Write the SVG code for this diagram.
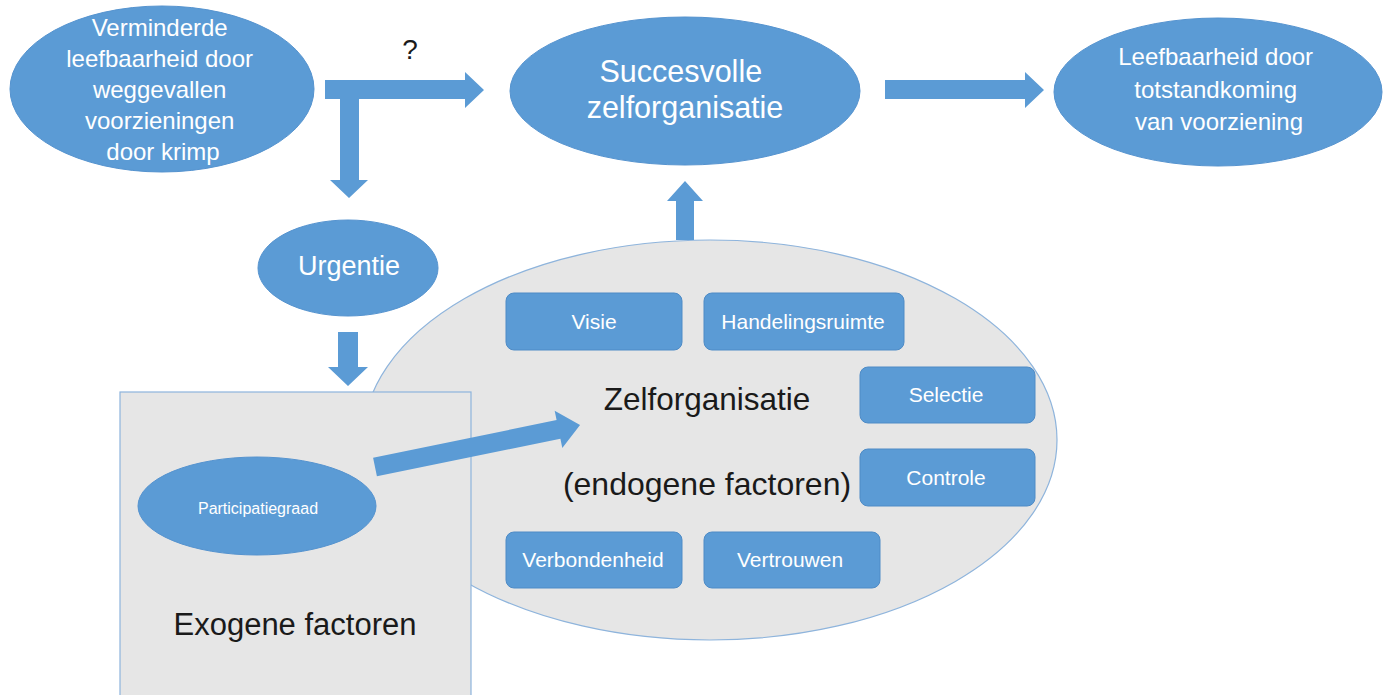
<svg xmlns="http://www.w3.org/2000/svg" width="1384" height="695" viewBox="0 0 1384 695">
  <defs>
    <style>
      .blue { fill: #5b9bd5; stroke: #5593cf; stroke-width: 1; }
      .gray { fill: #e6e6e6; stroke: #8eb4dc; stroke-width: 1.2; }
      .box { fill: #5b9bd5; stroke: #4e8bc6; stroke-width: 1; }
      .arrow { fill: #5b9bd5; stroke: none; }
      .wt { font-family: "Liberation Sans", Arial, sans-serif; fill: #ffffff; text-anchor: middle; }
      .dk { font-family: "Liberation Sans", Arial, sans-serif; fill: #1a1a1a; text-anchor: middle; }
    </style>
  </defs>
  <rect width="1384" height="695" fill="#ffffff"/>

  <g id="zelforganisatie">
    <ellipse class="gray" cx="710" cy="440" rx="347" ry="200"/>
    <text class="dk" x="707" y="410" font-size="31.5">Zelforganisatie</text>
    <text class="dk" x="707" y="495" font-size="32">(endogene factoren)</text>
  </g>

  <g id="exogene">
    <rect class="gray" x="120" y="392" width="351" height="320"/>
    <text class="dk" x="295" y="635" font-size="31">Exogene factoren</text>
  </g>

  <g id="verminderde">
    <ellipse class="blue" cx="162" cy="89" rx="152" ry="83"/>
    <text class="wt" font-size="24">
      <tspan x="163" y="36">Verminderde</tspan>
      <tspan x="163" y="67">leefbaarheid door</tspan>
      <tspan x="163" y="98">weggevallen</tspan>
      <tspan x="163" y="129">voorzieningen</tspan>
      <tspan x="163" y="160">door krimp</tspan>
    </text>
  </g>

  <g id="succesvolle">
    <ellipse class="blue" cx="685" cy="91" rx="175" ry="74"/>
    <text class="wt" font-size="30.5">
      <tspan x="685" y="82">Succesvolle</tspan>
      <tspan x="685" y="118">zelforganisatie</tspan>
    </text>
  </g>

  <g id="leefbaarheid">
    <ellipse class="blue" cx="1218" cy="92" rx="164" ry="74"/>
    <text class="wt" font-size="24">
      <tspan x="1219" y="65">Leefbaarheid door</tspan>
      <tspan x="1219" y="98">totstandkoming</tspan>
      <tspan x="1219" y="130">van voorziening</tspan>
    </text>
  </g>

  <g id="urgentie">
    <ellipse class="blue" cx="348" cy="268" rx="90" ry="48"/>
    <text class="wt" x="349" y="275" font-size="27">Urgentie</text>
  </g>

  <g id="participatiegraad">
    <ellipse class="blue" cx="257" cy="506" rx="119" ry="49"/>
    <text class="wt" x="258" y="514" font-size="16">Participatiegraad</text>
  </g>

  <g id="visie">
    <rect class="box" x="506" y="293" width="176" height="57" rx="8"/>
    <text class="wt" x="594" y="329" font-size="21">Visie</text>
  </g>
  <g id="handelingsruimte">
    <rect class="box" x="704" y="293" width="200" height="57" rx="8"/>
    <text class="wt" x="803" y="329" font-size="21">Handelingsruimte</text>
  </g>
  <g id="selectie">
    <rect class="box" x="860" y="367" width="175" height="56" rx="8"/>
    <text class="wt" x="946" y="402" font-size="21">Selectie</text>
  </g>
  <g id="controle">
    <rect class="box" x="860" y="449" width="175" height="57" rx="8"/>
    <text class="wt" x="946" y="485" font-size="21">Controle</text>
  </g>
  <g id="verbondenheid">
    <rect class="box" x="506" y="532" width="176" height="56" rx="8"/>
    <text class="wt" x="593" y="567" font-size="21">Verbondenheid</text>
  </g>
  <g id="vertrouwen">
    <rect class="box" x="704" y="532" width="176" height="56" rx="8"/>
    <text class="wt" x="790" y="567" font-size="21">Vertrouwen</text>
  </g>

  <g id="connectors">
    <polygon class="arrow" points="325,80 465,80 465,72 484,90 465,108 465,99 325,99"/>
    <polygon class="arrow" points="340,95 359,95 359,180 368,180 349,198 330,180 340,180"/>
    <polygon class="arrow" points="885,80 1025,80 1025,72 1044,90 1025,108 1025,99 885,99"/>
    <polygon class="arrow" points="676,240 676,201 667,201 685,181 703,201 694,201 694,240"/>
    <polygon class="arrow" points="338,332 358,332 358,367 368,367 348,386 328,367 338,367"/>
    <polygon class="arrow" transform="translate(375,467) rotate(-11.58)" points="0,-9.5 187.3,-9.5 187.3,-19 209.3,0 187.3,19 187.3,9.5 0,9.5"/>
    <text x="410" y="59" font-family="Liberation Sans, Arial, sans-serif" font-size="28" fill="#1a1a1a" text-anchor="middle">?</text>
  </g>
</svg>
